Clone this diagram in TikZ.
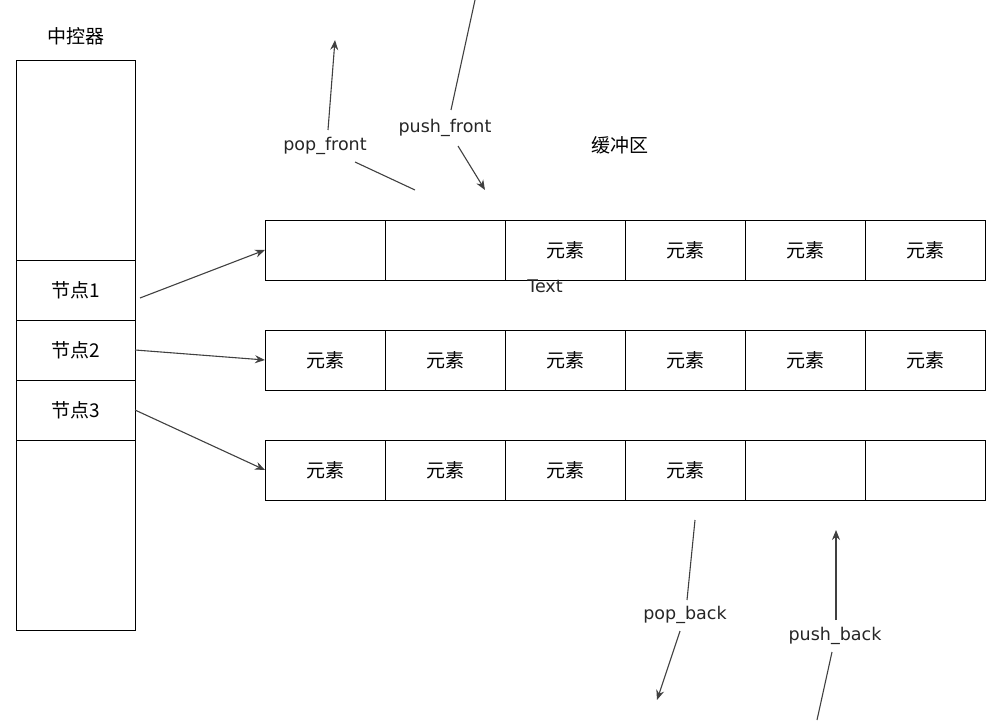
\documentclass[tikz,border=0pt]{standalone}
\usepackage{fontspec}
\setmainfont{DejaVu Sans}
\newfontfamily\cjk{Noto Sans CJK SC}
\usetikzlibrary{arrows.meta}
\begin{document}
\begin{tikzpicture}[x=1pt,y=-1pt,
  cjkf/.style={font=\cjk\fontsize{19}{19}\selectfont},
  cell/.style={draw=black,line width=0.9pt,minimum width=120pt,minimum height=60pt,inner sep=0pt,outer sep=0pt,cjkf},
  ctrl/.style={draw=black,line width=0.9pt,minimum width=119pt,inner sep=0pt,outer sep=0pt,cjkf},
  lbl/.style={inner sep=1pt,font=\fontsize{17.5}{17.5}\selectfont,text=black!85},
  conn/.style={draw=black!75,line width=1.1pt},
  arr/.style={conn,-{Stealth[length=10pt,width=8pt]}}]
\useasboundingbox (0,0) rectangle (986,722);
% controller
\node[cjkf] (title) at (76,36) {中控器};
\node[ctrl,minimum height=200pt] (c0) at (75.5,160) {};
\node[ctrl,minimum height=60pt] (c1) at (75.5,290) {节点1};
\node[ctrl,minimum height=60pt] (c2) at (75.5,350) {节点2};
\node[ctrl,minimum height=60pt] (c3) at (75.5,410) {节点3};
\node[ctrl,minimum height=190pt] (c4) at (75.5,535) {};
% buffer rows
\foreach \i in {1,...,6}{
  \node[cell] (a\i) at (265+\i*120-60,250) {};
  \node[cell] (b\i) at (265+\i*120-60,360) {元素};
  \node[cell] (d\i) at (265+\i*120-60,470) {};
}
\foreach \i in {3,...,6}{\node[cjkf] (ta\i) at (a\i) {元素};}
\foreach \i in {1,...,4}{\node[cjkf] (td\i) at (d\i) {元素};}
\node[cjkf] (buf) at (620,145) {缓冲区};
\node[lbl] (txt) at (545,286) {Text};
% connectors from nodes
\draw[arr] ([xshift=5pt,yshift=-8pt]c1.east) -- (a1.west);
\draw[arr] (c2.east) -- (b1.west);
\draw[arr] (c3.east) -- (d1.west);
% labels
\node[lbl] (popf) at (325,146) {pop\_front};
\node[lbl] (pushf) at (445,128) {push\_front};
\node[lbl] (popb) at (685,615) {pop\_back};
\node[lbl] (pushb) at (835,636) {push\_back};
\coordinate (pf0) at (328,130);
\coordinate (pf1) at (335,40);
\coordinate (pf3) at (355,162);
\coordinate (pf2) at (415,190);
\coordinate (sf1) at (475,0);
\coordinate (sf0) at (451,110);
\coordinate (sf3) at (458,146);
\coordinate (sf2) at (485,190);
\coordinate (pb1) at (695,520);
\coordinate (pb0) at (687,600);
\coordinate (pb3) at (680,631);
\coordinate (pb2) at (657,700);
\coordinate (sb0) at (836,620);
\coordinate (sb1) at (836,530);
\coordinate (sb3) at (832,652);
\coordinate (sb2) at (817,720);
\draw[arr] (pf0) -- (pf1);
\draw[conn] (pf3) -- (pf2);
\draw[conn] (sf1) -- (sf0);
\draw[arr] (sf3) -- (sf2);
\draw[conn] (pb1) -- (pb0);
\draw[arr] (pb3) -- (pb2);
\draw[arr] (sb0) -- (sb1);
\draw[conn] (sb3) -- (sb2);
\end{tikzpicture}
\end{document}
